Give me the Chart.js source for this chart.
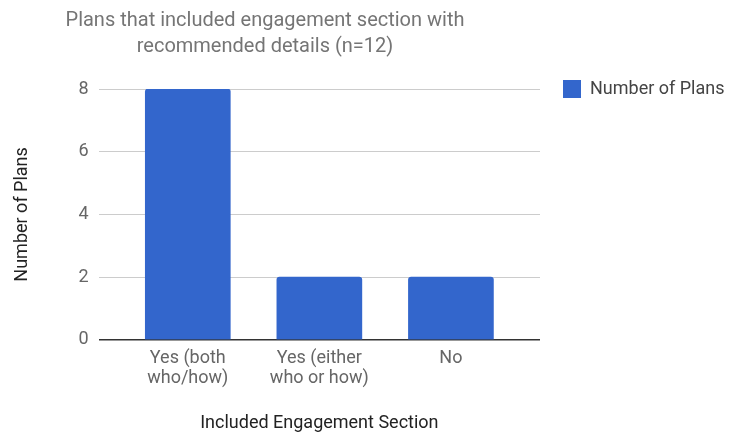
<!DOCTYPE html>
<html>
<head>
<meta charset="utf-8">
<script src="https://cdn.jsdelivr.net/npm/chart.js@4"></script>
<style>
  html, body { margin: 0; padding: 0; background: #fff; }
  #wrap { width: 734px; height: 435px; position: relative; }
</style>
</head>
<body>
<div id="wrap"><canvas id="chart"></canvas></div>
<script>
// data
const categories = [['Yes (both', 'who/how)'], ['Yes (either', 'who or how)'], ['No']];
const planCounts = [8, 2, 2];
const seriesName = 'Number of Plans';
const titleLines = ['Plans that included engagement section with', 'recommended details (n=12)'];
const yTicks = [0, 2, 4, 6, 8];

// title drawn by hand so it can sit left of centre like the original
const titlePlugin = {
  id: 'leftTitle',
  afterDraw(chart) {
    const c = chart.ctx;
    c.save();
    c.font = '20px Roboto';
    c.fillStyle = '#757575';
    c.textAlign = 'center';
    c.textBaseline = 'middle';
    titleLines.forEach((t, i) => c.fillText(t, 265, 21 + i * 26));
    c.restore();
  }
};

new Chart(document.getElementById('chart'), {
  type: 'bar',
  data: {
    datasets: [{
      label: seriesName,
      data: planCounts.map((v, i) => ({ x: i, y: v })),
      backgroundColor: '#3366CC',
      borderWidth: 0,
      borderRadius: { topLeft: 3, topRight: 3 },
      borderSkipped: 'bottom',
      barThickness: 85
    }]
  },
  options: {
    responsive: true,
    maintainAspectRatio: false,
    animation: false,
    layout: { padding: { top: 57, right: 0, left: 0, bottom: 1 } },
    plugins: {
      title: { display: false },
      tooltip: { enabled: false },
      legend: {
        position: 'right',
        align: 'start',
        maxWidth: 194,
        labels: {
          boxWidth: 18,
          boxHeight: 18,
          padding: 23,
          color: '#444',
          font: { family: 'Roboto', size: 18 }
        }
      }
    },
    scales: {
      x: {
        type: 'linear',
        offset: false,
        min: -0.677,
        max: 2.677,
        grid: { display: false },
        border: { display: false },
        ticks: {
          stepSize: 1,
          autoSkip: false,
          maxRotation: 0,
          color: '#666',
          font: { family: 'Roboto', size: 18, lineHeight: 1.1 },
          padding: 1,
          callback: v => Number.isInteger(v) && categories[v] ? categories[v] : ''
        },
        title: {
          display: true,
          text: 'Included Engagement Section',
          color: '#222',
          font: { family: 'Roboto', size: 18 },
          padding: { top: 23, bottom: 0 }
        }
      },
      y: {
        min: 0,
        max: 8,
        afterBuildTicks: axis => { axis.ticks = yTicks.map(v => ({ value: v })); },
        // push the plot top down while the legend stays higher
        afterFit: axis => { axis.paddingTop = 89; },
        grid: {
          drawTicks: false,
          color: ctx => ctx.tick && ctx.tick.value === 0 ? '#333' : '#ccc',
          lineWidth: ctx => ctx.tick && ctx.tick.value === 0 ? 1.5 : 1
        },
        border: { display: false },
        ticks: {
          color: '#666',
          font: { family: 'Roboto', size: 18 },
          padding: 10
        },
        title: {
          display: true,
          text: 'Number of Plans',
          color: '#222',
          font: { family: 'Roboto', size: 18 },
          padding: { top: 12, bottom: 35 }
        }
      }
    }
  },
  plugins: [titlePlugin]
});
</script>
</body>
</html>
